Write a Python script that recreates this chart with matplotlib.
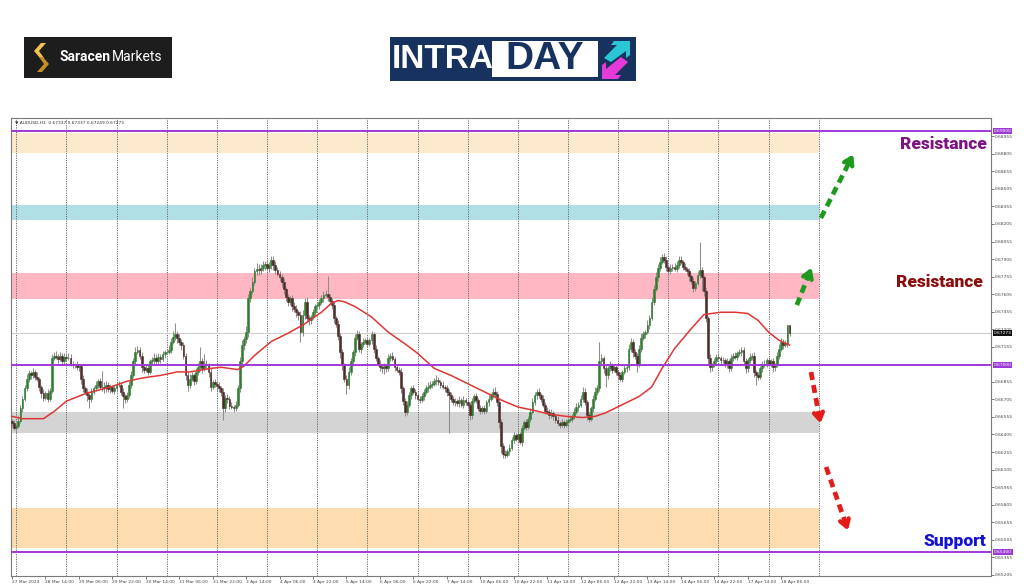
import numpy as np
import matplotlib
matplotlib.use("Agg")
import matplotlib.pyplot as plt
import matplotlib.transforms as mtransforms
from matplotlib import font_manager
from matplotlib.patches import Rectangle, Polygon

# ---- data (prices in pips, 0.6xxx * 10000) ----
first_open = 6652
closes = [
    6650, 6646, 6648, 6652, 6663, 6671, 6680, 6688, 6693, 6691,
    6694, 6690, 6688, 6681, 6676, 6672, 6676, 6671, 6678, 6706,
    6708, 6707, 6705, 6708, 6703, 6707, 6706, 6706, 6701, 6700,
    6700, 6698, 6699, 6688, 6680, 6677, 6674, 6671, 6677, 6680,
    6683, 6686, 6681, 6681, 6680, 6683, 6679, 6681, 6678, 6680,
    6683, 6683, 6677, 6673, 6671, 6674, 6683, 6691, 6703, 6711,
    6713, 6708, 6698, 6696, 6697, 6694, 6703, 6704, 6706, 6703,
    6707, 6705, 6709, 6711, 6711, 6713, 6720, 6724, 6726, 6723,
    6720, 6717, 6708, 6691, 6683, 6688, 6691, 6686, 6694, 6698,
    6703, 6697, 6701, 6700, 6694, 6681, 6685, 6684, 6682, 6680,
    6677, 6663, 6672, 6671, 6665, 6664, 6663, 6666, 6680, 6703,
    6717, 6722, 6728, 6757, 6763, 6771, 6780, 6782, 6781, 6783,
    6785, 6786, 6783, 6785, 6790, 6785, 6781, 6778, 6775, 6771,
    6765, 6758, 6754, 6757, 6750, 6748, 6745, 6743, 6728, 6743,
    6754, 6740, 6738, 6741, 6745, 6750, 6751, 6754, 6757, 6760,
    6761, 6758, 6755, 6751, 6740, 6735, 6725, 6711, 6700, 6688,
    6683, 6694, 6703, 6711, 6723, 6726, 6714, 6718, 6720, 6721,
    6718, 6721, 6726, 6714, 6706, 6701, 6698, 6697, 6699, 6697,
    6706, 6708, 6705, 6698, 6696, 6694, 6680, 6669, 6660, 6666,
    6674, 6680, 6677, 6674, 6671, 6670, 6673, 6677, 6680, 6681,
    6683, 6684, 6686, 6687, 6685, 6683, 6681, 6680, 6677, 6674,
    6671, 6668, 6669, 6667, 6670, 6666, 6670, 6668, 6666, 6657,
    6669, 6673, 6670, 6663, 6661, 6663, 6661, 6668, 6671, 6674,
    6677, 6675, 6668, 6651, 6631, 6624, 6623, 6626, 6629, 6636,
    6640, 6637, 6641, 6634, 6646, 6651, 6647, 6654, 6660, 6668,
    6674, 6677, 6674, 6671, 6666, 6661, 6660, 6657, 6659, 6656,
    6653, 6650, 6649, 6651, 6649, 6651, 6653, 6654, 6656, 6660,
    6664, 6666, 6671, 6677, 6668, 6657, 6654, 6663, 6671, 6677,
    6680, 6703, 6706, 6697, 6691, 6697, 6700, 6696, 6698, 6694,
    6691, 6688, 6694, 6697, 6698, 6714, 6720, 6711, 6708, 6700,
    6714, 6723, 6726, 6728, 6734, 6740, 6754, 6765, 6775, 6783,
    6788, 6792, 6790, 6784, 6780, 6783, 6784, 6782, 6785, 6790,
    6788, 6784, 6782, 6780, 6776, 6772, 6766, 6770, 6777, 6781,
    6775, 6763, 6740, 6706, 6698, 6700, 6703, 6707, 6706, 6704,
    6704, 6701, 6703, 6697, 6706, 6708, 6707, 6710, 6711, 6713,
    6703, 6697, 6704, 6707, 6708, 6694, 6691, 6690, 6697, 6700,
    6701, 6704, 6701, 6703, 6698, 6700, 6708, 6714, 6720, 6717,
    6718, 6733.7, 6727.3,
]
wick_hi = [
    2, 3, 2, 4, 3, 2, 3, 4, 3, 2,   3, 2, 4, 2, 2, 3, 2, 3, 2, 3,
    3, 4, 2, 3, 2, 3, 2, 4, 3, 2,   2, 3, 2, 2, 3, 2, 3, 2, 3, 2,
    3, 2, 3, 14, 4, 3, 2, 3, 2, 3,  2, 3, 2, 3, 2, 3, 3, 4, 3, 4,
    3, 2, 3, 2, 4, 3, 2, 3, 4, 3,   3, 2, 3, 2, 3, 4, 3, 5, 10, 3,
    3, 2, 3, 2, 3, 4, 3, 2, 3, 4,   12, 3, 8, 3, 2, 3, 2, 3, 2, 3,
    2, 3, 2, 3, 2, 3, 2, 3, 3, 4,   4, 3, 5, 4, 3, 4, 3, 5, 4, 3,
    4, 3, 4, 3, 3, 3, 4, 3, 2, 3,   3, 2, 3, 2, 3, 4, 3, 2, 3, 4,
    3, 4, 3, 2, 3, 2, 3, 2, 3, 3,   3, 15, 3, 2, 3, 2, 3, 2, 3, 2,
    3, 4, 3, 2, 3, 4, 3, 2, 3, 2,   3, 2, 3, 2, 3, 2, 3, 2, 3, 2,
    3, 2, 3, 2, 3, 2, 3, 2, 3, 3,   3, 2, 3, 2, 3, 2, 3, 2, 3, 4,
    3, 2, 3, 4, 3, 2, 3, 2, 3, 2,   3, 2, 3, 2, 3, 2, 3, 2, 3, 2,
    3, 2, 3, 2, 3, 2, 3, 2, 3, 2,   3, 4, 3, 4, 3, 2, 3, 2, 3, 2,
    3, 2, 3, 2, 3, 2, 3, 2, 3, 4,   3, 2, 3, 2, 3, 2, 3, 2, 3, 2,
    2, 3, 2, 3, 2, 3, 2, 3, 2, 3,   3, 2, 3, 4, 3, 2, 3, 2, 3, 4,
    3, 17, 3, 2, 3, 2, 3, 2, 3, 2,  2, 3, 2, 3, 2, 4, 3, 2, 3, 2,
    3, 4, 3, 2, 4, 3, 4, 3, 4, 3,   4, 3, 4, 3, 2, 3, 2, 3, 4, 3,
    3, 2, 3, 2, 3, 2, 3, 2, 3, 24,  3, 2, 3, 2, 3, 2, 3, 2, 3, 2,
    3, 2, 3, 2, 3, 2, 3, 2, 3, 2,   2, 3, 2, 3, 2, 3, 2, 3, 2, 3,
    3, 2, 3, 2, 3, 2, 3, 4, 3, 2,   3, 0, 0,
]
wick_lo = [
    3, 2, 4, 2, 2, 3, 2, 2, 3, 3,   2, 3, 2, 3, 4, 3, 2, 3, 2, 2,
    2, 2, 3, 2, 3, 2, 3, 2, 2, 3,   3, 2, 3, 4, 3, 2, 5, 8, 3, 2,
    2, 3, 2, 3, 4, 3, 2, 3, 2, 3,   3, 2, 3, 10, 4, 3, 2, 3, 2, 3,
    2, 3, 4, 3, 2, 3, 2, 2, 3, 2,   2, 3, 2, 3, 2, 2, 3, 2, 3, 4,
    3, 4, 3, 4, 5, 3, 2, 3, 2, 3,   3, 4, 2, 3, 4, 3, 2, 3, 4, 3,
    4, 10, 3, 4, 3, 2, 3, 2, 2, 3,  3, 4, 3, 4, 3, 2, 3, 3, 4, 3,
    3, 4, 3, 4, 3, 4, 3, 2, 3, 4,   4, 3, 4, 3, 4, 3, 4, 5, 8, 3,
    4, 3, 4, 3, 2, 3, 2, 3, 2, 3,   2, 3, 2, 3, 4, 3, 4, 5, 4, 3,
    8, 4, 3, 4, 3, 2, 3, 4, 3, 2,   3, 2, 3, 4, 3, 2, 3, 4, 5, 3,
    2, 3, 2, 3, 2, 3, 4, 3, 4, 3,   2, 3, 2, 3, 2, 3, 2, 3, 2, 3,
    2, 3, 2, 3, 2, 3, 2, 3, 4, 32,  3, 2, 3, 2, 3, 2, 3, 2, 3, 4,
    3, 2, 3, 2, 3, 2, 3, 2, 3, 2,   2, 3, 3, 5, 6, 4, 3, 2, 3, 2,
    3, 2, 3, 2, 3, 2, 3, 2, 3, 2,   2, 3, 2, 3, 2, 3, 2, 3, 2, 3,
    3, 2, 3, 2, 3, 2, 3, 2, 3, 2,   2, 3, 2, 3, 2, 4, 3, 2, 3, 2,
    3, 2, 3, 4, 10, 3, 2, 3, 2, 3,  3, 2, 3, 2, 3, 2, 3, 4, 3, 6,
    2, 3, 2, 3, 2, 3, 2, 3, 2, 3,   3, 2, 3, 4, 3, 2, 3, 2, 3, 2,
    2, 3, 2, 3, 4, 3, 4, 3, 2, 3,   12, 4, 3, 5, 4, 3, 2, 3, 2, 3,
    2, 3, 4, 3, 2, 3, 2, 3, 2, 3,   3, 4, 3, 2, 3, 4, 8, 3, 2, 3,
    2, 3, 2, 3, 4, 3, 2, 3, 2, 3,   2, 3, 2.4,
]

# moving average (bar index, pips)
ma_bar = [0, 5, 15, 20, 26, 36, 47, 55, 63, 71, 79, 85, 95, 100, 108, 111, 116, 124,
          132, 140, 148, 153, 156, 159, 164, 172, 180, 188, 194, 202, 210, 218, 226,
          234, 242, 250, 257, 265, 273, 279, 284, 292, 300, 306, 311, 317, 325, 331,
          339, 346, 352, 357, 362, 367, 372]
ma_val = [6656, 6654, 6654, 6660, 6669, 6676, 6681, 6686, 6689, 6691, 6694, 6694, 6697,
          6698, 6696, 6699, 6708, 6720, 6727, 6735, 6745, 6753, 6755, 6754, 6750, 6741,
          6728, 6718, 6710, 6697, 6691, 6684, 6677, 6670, 6664, 6661, 6658, 6656, 6655,
          6656, 6659, 6666, 6673, 6681, 6697, 6714, 6731, 6743, 6745, 6745, 6744, 6738,
          6728, 6721, 6717]

time_labels = ["27 Mar 2023", "28 Mar 14:00", "29 Mar 06:00", "29 Mar 22:00", "30 Mar 14:00",
               "31 Mar 06:00", "31 Mar 22:00", "3 Apr 14:00", "4 Apr 06:00", "4 Apr 22:00",
               "5 Apr 14:00", "6 Apr 06:00", "6 Apr 22:00", "7 Apr 14:00", "10 Apr 06:00",
               "10 Apr 22:00", "11 Apr 14:00", "12 Apr 06:00", "12 Apr 22:00", "13 Apr 14:00",
               "14 Apr 06:00", "14 Apr 22:00", "17 Apr 14:00", "18 Apr 06:00"]

price_ticks = [0.68955, 0.68805, 0.68655, 0.68505, 0.68355, 0.68205, 0.68055, 0.67905,
               0.67755, 0.67605, 0.67455, 0.67305, 0.67155, 0.66855, 0.66705, 0.66555,
               0.66405, 0.66255, 0.66105, 0.65955, 0.65805, 0.65655, 0.65505, 0.65355, 0.65205]

zone_lo = [0.68812, 0.68239, 0.67563, 0.66417, 0.65434]
zone_hi = [0.68983, 0.68367, 0.67786, 0.66597, 0.65776]
zone_colors = ["#fde9cc", "#b0dfe6", "#ffb7c3", "#d4d4d4", "#fddcaf"]

levels = [0.69000, 0.67000, 0.65400]
last_price = 0.67273

# arrows: (bar0, price0, bar1, price1, colour)
arrows = [
    (387, 0.68256, 402.5, 0.68800, "#1e9a1e"),
    (375.5, 0.67512, 382.5, 0.67830, "#1e9a1e"),
    (382.3, 0.66939, 386.8, 0.66500, "#e21b1b"),
    (389.5, 0.66127, 400.0, 0.65585, "#e21b1b"),
]

installed = {f.name for f in font_manager.fontManager.ttflist}
narrow = "Liberation Sans Narrow" if "Liberation Sans Narrow" in installed else "DejaVu Sans"
small_size = 5.0 if narrow != "DejaVu Sans" else 3.2

# ---- figure ----
W, H = 1024, 587
fig = plt.figure(figsize=(W / 100, H / 100), dpi=100)
fig.patch.set_facecolor("white")


def fx(x):
    return x / W


def fy(y):
    return 1 - y / H


ax = fig.add_axes([fx(11), fy(576), fx(991) - fx(11), fy(118) - fy(576)])
ax.set_xlim(-0.5, 468.4)
ax.set_ylim(0.65195, 0.69111)

c = np.array(closes) / 10000
o = np.array([first_open] + closes[:-1]) / 10000
hi = np.maximum(o, c) + np.array(wick_hi) / 10000
lo = np.minimum(o, c) - np.array(wick_lo) / 10000
x = np.arange(len(c))
up = c >= o

band_end = 386
for zl, zh, zc in zip(zone_lo, zone_hi, zone_colors):
    ax.add_patch(Rectangle((-0.5, zl), band_end + 0.5, zh - zl, facecolor=zc,
                           edgecolor="none", zorder=1))

for b in range(2, band_end + 1, 24):
    ax.axvline(b, color="#6a6a6a", lw=0.7, ls=(0, (1.2, 1.2)), zorder=2)

ax.axhline(last_price, color="#cfcfcf", lw=0.8, zorder=2)

ax.vlines(x, lo, hi, color="#8e8e8e", lw=0.75, zorder=3)
ax.bar(x[up], (c - o)[up], bottom=o[up], width=0.85, color="#2f7d2f",
       edgecolor="#2f7d2f", lw=0.4, zorder=4)
ax.bar(x[~up], (c - o)[~up], bottom=o[~up], width=0.85, color="#4e2a2a",
       edgecolor="#4e2a2a", lw=0.4, zorder=4)

ax.plot(ma_bar, np.array(ma_val) / 10000, color="#e03535", lw=1.1, zorder=6)

for lv in levels:
    ax.axhline(lv, color="#9d3ad6", lw=1.4, zorder=7)

for x0, y0, x1, y1, col in arrows:
    xm = x0 + (x1 - x0) * 0.86
    ym = y0 + (y1 - y0) * 0.86
    ax.plot([x0, xm], [y0, ym], color=col, lw=3.4, ls=(0, (1.7, 1.1)),
            solid_capstyle="butt", zorder=8)
    ax.annotate("", xy=(x1, y1), xytext=(xm, ym),
                arrowprops=dict(arrowstyle="->,head_length=0.5,head_width=0.32",
                                color=col, lw=3.2, shrinkA=0, shrinkB=0), zorder=8)

# axes styling
for s in ax.spines.values():
    s.set_color("#7a7a7a")
    s.set_linewidth(0.8)
ax.yaxis.tick_right()
ax.set_yticks(price_ticks)
ax.set_yticklabels([f"{v:.5f}" for v in price_ticks])
ax.set_xticks(range(0, 16 * len(time_labels), 16))
ax.set_xticklabels(time_labels, ha="left")
ax.tick_params(axis="both", labelsize=small_size, length=2, width=0.5, pad=1,
               colors="#444444")
for t in ax.get_xticklabels() + ax.get_yticklabels():
    t.set_family(narrow)

blend = mtransforms.blended_transform_factory(ax.transAxes, ax.transData)
for lv in levels:
    ax.text(1.003, lv, f"{lv:.5f}", transform=blend, fontsize=small_size, color="white",
            family=narrow, va="center", ha="left", zorder=10, clip_on=False,
            bbox=dict(boxstyle="square,pad=0.15", fc="#9d3ad6", ec="none"))
ax.text(1.003, last_price, f"{last_price:.5f}", transform=blend, fontsize=small_size,
        color="white", family=narrow, va="center", ha="left", zorder=10, clip_on=False,
        bbox=dict(boxstyle="square,pad=0.15", fc="#111111", ec="none"))

ax.text(0.004, 0.994, "\u25bc AUDUSD,H1  0.67337 0.67337 0.67249 0.67273",
        transform=ax.transAxes, fontsize=small_size, color="#333333", va="top", ha="left",
        family=[narrow, "DejaVu Sans"])

# zone labels
lab_font = ["Roboto", "DejaVu Sans"]
fig.text(fx(943), fy(144), "Resistance", color="#7d1580", fontsize=12.5,
         fontweight=900, family=lab_font, ha="center", va="center")
fig.text(fx(939), fy(282), "Resistance", color="#8b0d0d", fontsize=12.5,
         fontweight=900, family=lab_font, ha="center", va="center")
fig.text(fx(955), fy(541), "Support", color="#1414d2", fontsize=12.5,
         fontweight=900, family=lab_font, ha="center", va="center")

# ---- logos ----
fig.add_artist(Rectangle((fx(24), fy(78)), fx(172) - fx(24), fy(37) - fy(78),
                         transform=fig.transFigure, facecolor="#1d1d1d", edgecolor="none"))
s_top = [(46, 43), (39, 51), (44, 58), (40, 58), (34, 51), (41, 43)]
s_bot = [(37, 72), (44, 64), (39, 57), (43, 57), (49, 64), (42, 72)]
for pts, col in [(s_top, "#f2c14e"), (s_bot, "#c98e22")]:
    fig.add_artist(Polygon([(fx(a), fy(b)) for a, b in pts], closed=True,
                           transform=fig.transFigure, facecolor=col, edgecolor="none"))
fig.text(fx(60), fy(57), "Saracen", color="white", fontsize=10, fontweight="bold",
         family=lab_font, ha="left", va="center")
fig.text(fx(112), fy(57), "Markets", color="white", fontsize=10,
         family=lab_font, ha="left", va="center")

navy = "#17325e"
fig.add_artist(Rectangle((fx(390), fy(81)), fx(636) - fx(390), fy(37) - fy(81),
                         transform=fig.transFigure, facecolor=navy, edgecolor="none"))
fig.add_artist(Rectangle((fx(492), fy(77)), fx(598) - fx(492), fy(41) - fy(77),
                         transform=fig.transFigure, facecolor="white", edgecolor="none"))
big_font = ["Liberation Sans Narrow", "Liberation Sans", "DejaVu Sans"]
big_font = [f for f in big_font if f in installed] or ["DejaVu Sans"]
fig.text(fx(443), fy(59), "INTRA", color="white", fontsize=24, fontweight="bold",
         family=big_font, ha="center", va="center")
fig.text(fx(545), fy(59), "DAY", color=navy, fontsize=28, fontweight="bold",
         family=big_font, ha="center", va="center")
cyan = [(604, 58), (617, 45), (611, 45), (614, 41), (630, 41), (630, 55), (626, 58), (626, 51), (611, 62)]
mag = [(628, 62), (615, 75), (621, 75), (618, 79), (602, 79), (602, 65), (606, 62), (606, 69), (621, 57)]
fig.add_artist(Polygon([(fx(a), fy(b)) for a, b in cyan], closed=True,
                       transform=fig.transFigure, facecolor="#2bc6d6", edgecolor="none"))
fig.add_artist(Polygon([(fx(a), fy(b)) for a, b in mag], closed=True,
                       transform=fig.transFigure, facecolor="#e53ad8", edgecolor="none"))

fig.savefig("out.png", dpi=100)
